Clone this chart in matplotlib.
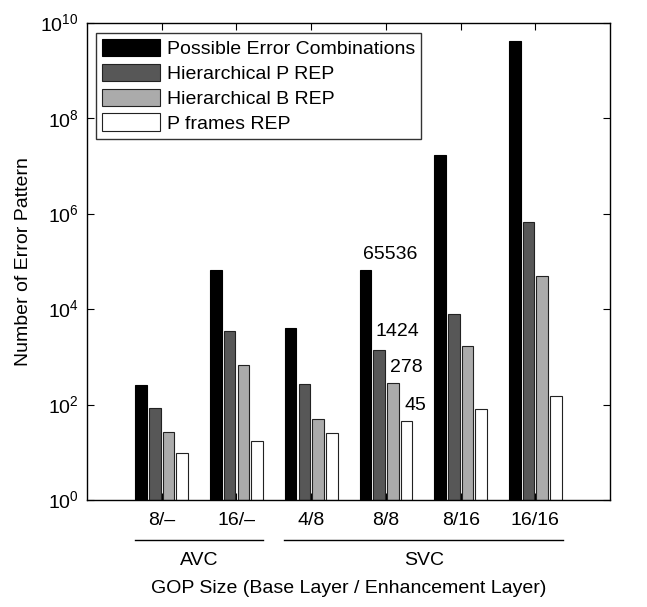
import numpy as np
import matplotlib.pyplot as plt
import matplotlib.transforms as mtransforms

plt.rcParams['font.family'] = ['Liberation Sans', 'DejaVu Sans']
plt.rcParams['mathtext.fontset'] = 'custom'
plt.rcParams['mathtext.rm'] = 'Liberation Sans'

groups = ["8/\u2013", "16/\u2013", "4/8", "8/8", "8/16", "16/16"]
series = ["Possible Error Combinations", "Hierarchical P REP",
          "Hierarchical B REP", "P frames REP"]
possible = [256, 65536, 4096, 65536, 16777216, 4294967296]
hier_p = [82, 3550, 268, 1424, 7800, 660000]
hier_b = [26, 665, 50, 278, 1710, 50000]
p_frames = [8.8, 16.5, 24, 45, 80, 150]
annot_vals = [65536, 1424, 278, 45]

colors = ["#000000", "#575757", "#ababab", "#ffffff"]
FS = 14

fig = plt.figure(figsize=(6.47, 6.07), dpi=100)
ax = fig.add_axes([0.1345, 0.1763, 0.8085, 0.9620 - 0.1763])

x = np.arange(1, len(groups) + 1)
pitch = 0.183
width = 0.155
data = [possible, hier_p, hier_b, p_frames]
for i, (vals, c, name) in enumerate(zip(data, colors, series)):
    ax.bar(x + (i - 1.5) * pitch, vals, width, bottom=1, color=c,
           edgecolor="#000000" if i == 0 else "#222222", linewidth=0.8,
           label=name, zorder=2)

ax.set_yscale("log")
ax.set_ylim(1, 1e10)
ax.set_xlim(0, 7)
ax.set_yticks([10.0 ** k for k in range(0, 11, 2)])
ax.set_yticklabels([r"$10^{%d}$" % k for k in range(0, 11, 2)], fontsize=FS)
ax.minorticks_off()
ax.set_xticks(x)
ax.set_xticklabels(groups, fontsize=FS)
ax.tick_params(direction="in", top=True, right=True, length=5, width=0.8)
ax.tick_params(axis="x", pad=9)
ax.tick_params(axis="y", pad=6)
for s in ax.spines.values():
    s.set_linewidth(1.0)

# value labels on the 8/8 group
gi = 3
offs = [(0.33, 2.1), (0.25, 2.4), (0.18, 2.2), (0.115, 2.1)]
for i, (v, (dx, fy)) in enumerate(zip(annot_vals, offs)):
    ax.text(x[gi] + (i - 1.5) * pitch + dx, v * fy, str(v),
            ha="center", va="center", fontsize=FS)

ax.set_ylabel("Number of Error Pattern", fontsize=FS, labelpad=6)

# codec group brackets under tick labels
trans = mtransforms.blended_transform_factory(ax.transData, ax.transAxes)
for (x0, x1, name) in [(0.64, 2.36, "AVC"), (2.64, 6.37, "SVC")]:
    ax.plot([x0, x1], [-0.084, -0.084], color="black", lw=1.0,
            transform=trans, clip_on=False)
    ax.text((x0 + x1) / 2, -0.126, name, transform=trans, ha="center",
            va="center", fontsize=FS)
ax.text(3.5, -0.185, "GOP Size (Base Layer / Enhancement Layer)",
        transform=trans, ha="center", va="center", fontsize=FS)

leg = ax.legend(loc="upper left", bbox_to_anchor=(0.017, 0.979),
                fontsize=FS, frameon=True, fancybox=False,
                edgecolor="black", handlelength=3.0, handleheight=1.0,
                labelspacing=0.28, borderpad=0.3, handletextpad=0.35,
                borderaxespad=0)
leg.get_frame().set_linewidth(1.0)

fig.savefig("out.png", dpi=100)
